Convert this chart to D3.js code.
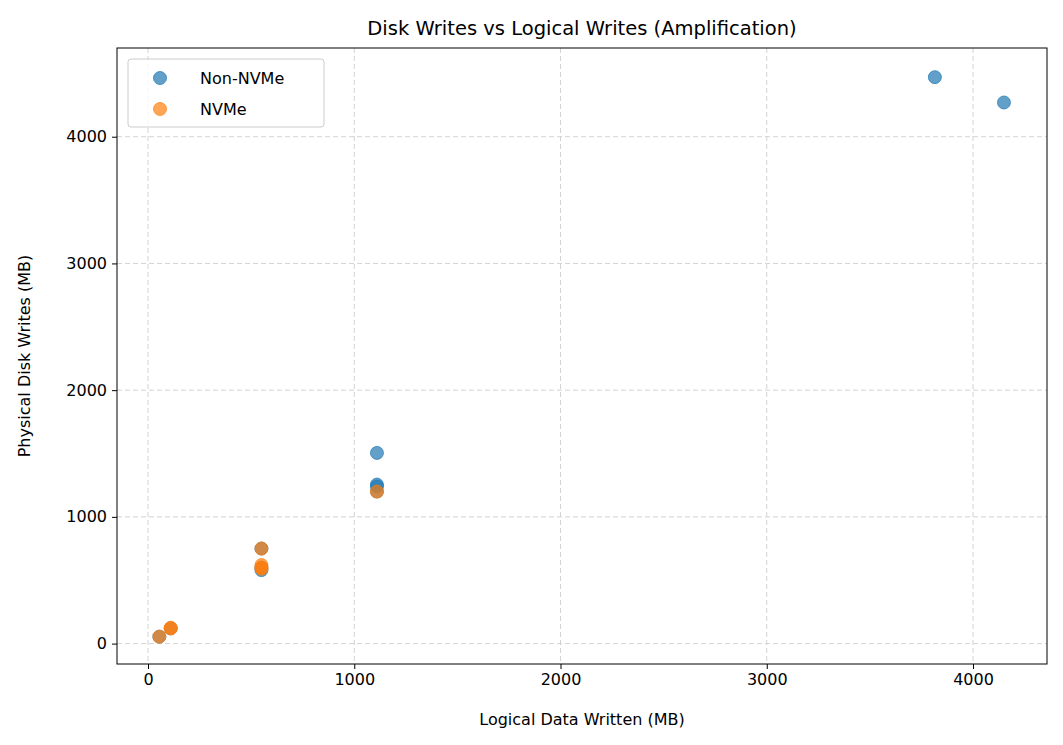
<!DOCTYPE html>
<html><head><meta charset="utf-8">
<script src="https://cdn.jsdelivr.net/npm/d3@7"></script>
<style>body{margin:0;background:#fff}text{font-family:"DejaVu Sans",sans-serif}</style>
</head><body>
<script>
// series values (MB)
var nonNvmeX = [3815, 4150, 1110, 1110, 1110, 1110, 550, 550, 550, 110, 55];
var nonNvmeY = [4470, 4270, 1505, 1255, 1240, 1200, 750, 600, 580, 120, 55];
var nvmeX = [55, 110, 110, 550, 550, 550, 550, 1110];
var nvmeY = [55, 125, 120, 750, 620, 600, 590, 1200];
var xTicks = [0, 1000, 2000, 3000, 4000];
var yTicks = [0, 1000, 2000, 3000, 4000];

var W = 1063, H = 745;
var m = {left: 117, right: 16, top: 48, bottom: 81};

var svg = d3.select("body").append("svg").attr("width", W).attr("height", H);

var x = d3.scaleLinear().domain([-150.3, 4358.7]).range([m.left, W - m.right]);
var y = d3.scaleLinear().domain([-161, 4700]).range([H - m.bottom, m.top]);

// grid
svg.append("g").selectAll("line").data(xTicks).enter().append("line")
	.attr("x1", d => x(d)).attr("x2", d => x(d))
	.attr("y1", m.top).attr("y2", H - m.bottom)
	.attr("stroke", "#d3d3d3").attr("stroke-dasharray", "5,3");
svg.append("g").selectAll("line").data(yTicks).enter().append("line")
	.attr("y1", d => y(d)).attr("y2", d => y(d))
	.attr("x1", m.left).attr("x2", W - m.right)
	.attr("stroke", "#d3d3d3").attr("stroke-dasharray", "5,3");

// axes
var xa = svg.append("g").attr("transform", "translate(0," + (H - m.bottom) + ")")
	.call(d3.axisBottom(x).tickValues(xTicks).tickSize(5).tickPadding(5).tickFormat(d3.format("d")));
var ya = svg.append("g").attr("transform", "translate(" + m.left + ",0)")
	.call(d3.axisLeft(y).tickValues(yTicks).tickSize(5).tickPadding(5).tickFormat(d3.format("d")));
[xa, ya].forEach(function (a) {
	a.selectAll("text").style("font-size", "16px").attr("fill", "#000");
	a.select(".domain").remove();
});
svg.append("rect").attr("x", m.left).attr("y", m.top)
	.attr("width", W - m.left - m.right).attr("height", H - m.top - m.bottom)
	.attr("fill", "none").attr("stroke", "#000").attr("stroke-width", 1);

// points
function plot(xs, ys, c) {
	svg.append("g").selectAll("circle").data(xs).enter().append("circle")
		.attr("cx", d => x(d)).attr("cy", (d, i) => y(ys[i]))
		.attr("r", 6.5).attr("fill", c).attr("fill-opacity", 0.7)
		.attr("stroke", c).attr("stroke-opacity", 0.7);
}
plot(nonNvmeX, nonNvmeY, "#1f77b4");
plot(nvmeX, nvmeY, "#ff7f0e");

// labels
svg.append("text").attr("x", (m.left + W - m.right) / 2).attr("y", 35)
	.attr("text-anchor", "middle").style("font-size", "19.5px").text("Disk Writes vs Logical Writes (Amplification)");
svg.append("text").attr("x", (m.left + W - m.right) / 2).attr("y", 725)
	.attr("text-anchor", "middle").style("font-size", "16px").text("Logical Data Written (MB)");
svg.append("text").attr("transform", "translate(30," + ((m.top + H - m.bottom) / 2) + ") rotate(-90)")
	.attr("text-anchor", "middle").style("font-size", "16px").text("Physical Disk Writes (MB)");

// legend
var lg = svg.append("g").attr("transform", "translate(128,59)");
lg.append("rect").attr("width", 196).attr("height", 68).attr("rx", 3)
	.attr("fill", "#fff").attr("fill-opacity", 0.8).attr("stroke", "#ccc");
[["Non-NVMe", "#1f77b4"], ["NVMe", "#ff7f0e"]].forEach(function (d, i) {
	lg.append("circle").attr("cx", 32).attr("cy", 19 + i * 31).attr("r", 6.5)
		.attr("fill", d[1]).attr("fill-opacity", 0.7).attr("stroke", d[1]).attr("stroke-opacity", 0.7);
	lg.append("text").attr("x", 72).attr("y", 25 + i * 31).style("font-size", "16px").text(d[0]);
});
</script>
</body></html>
